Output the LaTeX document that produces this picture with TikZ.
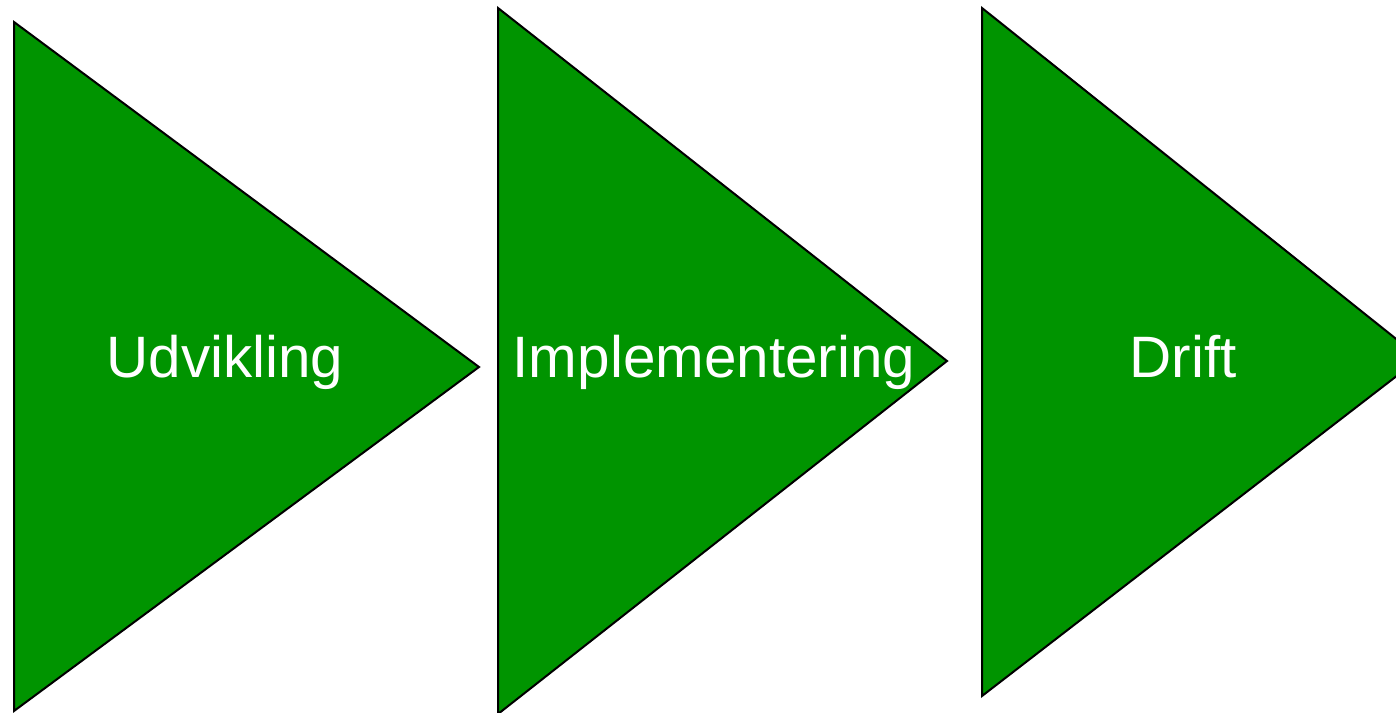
\documentclass[tikz,border=0pt]{standalone}
\usepackage{fontspec}
\setmainfont{Liberation Sans}
\definecolor{phasegreen}{RGB}{0,148,0}
\begin{document}
\begin{tikzpicture}[x=0.5pt,y=-0.5pt,
  phase/.style={fill=phasegreen,draw=black,line width=1pt,line join=miter},
  label/.style={text=white,font=\fontsize{29.2}{35}\selectfont,anchor=base,inner sep=0pt}]
\useasboundingbox (0,0) rectangle (1396,712);
\clip (0,0) rectangle (1396,712);
\draw[phase] (14,22) -- (479,367) -- (14,711) -- cycle;
\draw[phase] (498,8) -- (947,361) -- (498,714) -- cycle;
\draw[phase] (982,8) -- (1420,358) -- (982,696) -- cycle;
\node[label] (udv) at (225,377) {Udvikling};
\node[label] (imp) at (714,377) {Implementering};
\node[label] (drift) at (1183,377) {Drift};
\end{tikzpicture}
\end{document}
